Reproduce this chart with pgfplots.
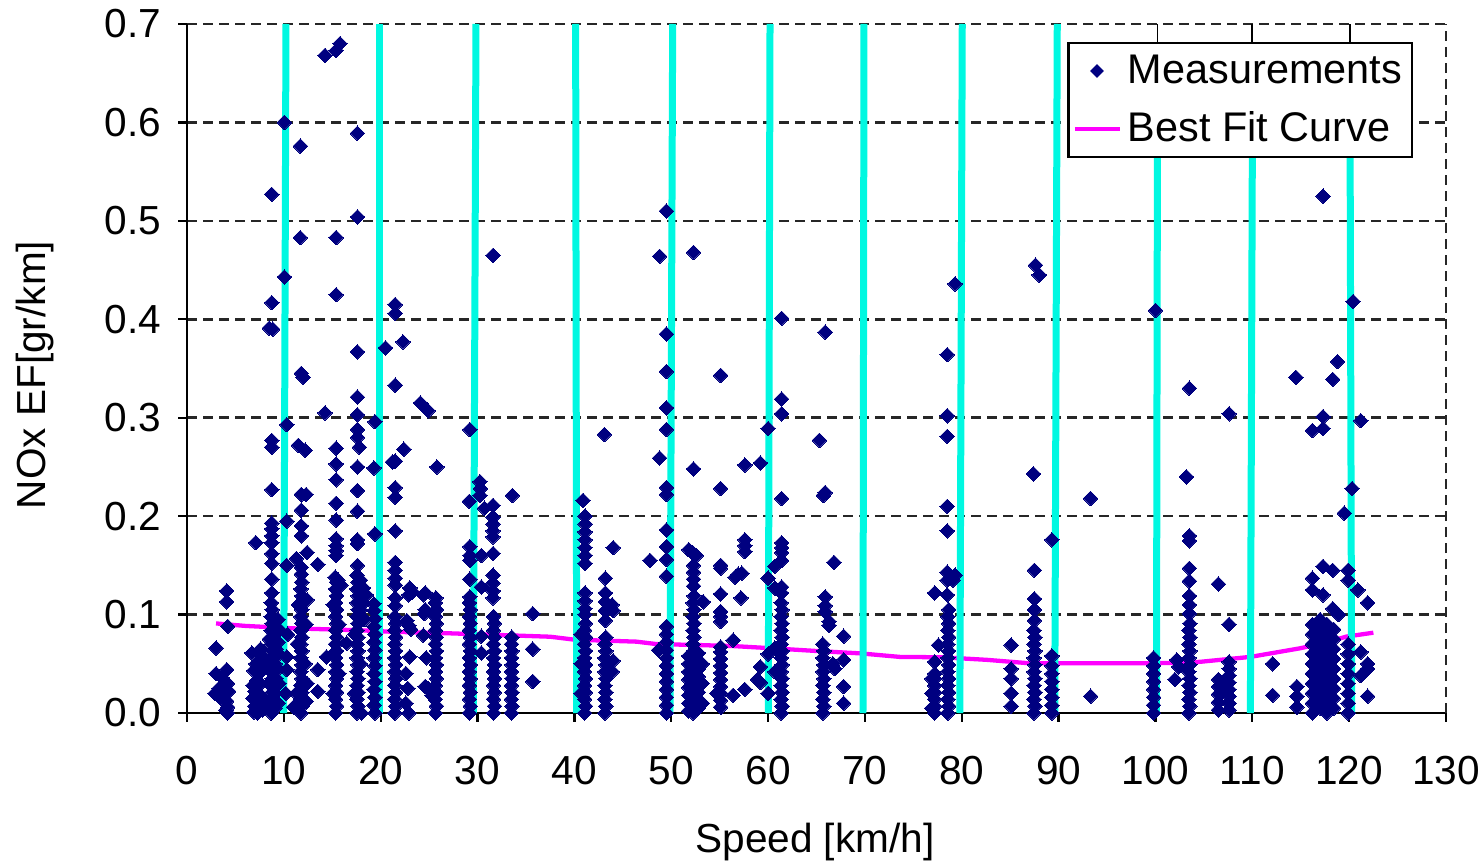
\documentclass[border=0pt]{standalone}
\usepackage{pgfplots}
\pgfplotsset{compat=1.18}
\usepackage{fontspec}
\setmainfont{Liberation Sans}
\definecolor{ptnavy}{RGB}{0,0,128}
\definecolor{bandaqua}{RGB}{0,248,225}
\definecolor{fitmagenta}{RGB}{255,0,255}
\newcommand{\chartfont}{\fontsize{14.2pt}{17pt}\selectfont}
\newcommand{\legendfont}{\fontsize{14.5pt}{17pt}\selectfont}
\pgfplotsset{
  shortline legend/.style={legend image code/.code={\draw[##1] (0.8pt,0pt) -- (16.6pt,0pt);}},
}

\begin{document}
\begin{tikzpicture}
\path[use as bounding box] (0,0) rectangle (518.35pt,302.4pt);
\begin{axis}[
  at={(65.45pt,52.85pt)}, anchor=south west,
  scale only axis, width=440.65pt, height=241.15pt,
  xmin=0, xmax=130, ymin=0, ymax=0.7,
  clip=false,
  xtick={0,10,20,30,40,50,60,70,80,90,100,110,120,130},
  ytick={0,0.1,0.2,0.3,0.4,0.5,0.6,0.7},
  axis x line*=bottom, axis y line*=left,
  axis line style={black, line width=0.8pt},
  tick style={black, line width=0.8pt},
  tick align=outside, major tick length=3pt,
  ymajorgrids,
  major grid style={black!85, line width=0.9pt, dash pattern=on 3.5pt off 2.1pt},
  extra x ticks={130}, extra x tick labels={},
  extra x tick style={grid=major, major tick length=0pt},
  /pgf/number format/assume math mode=true,
  ticklabel style={font=\chartfont},
  xticklabel style={yshift=-8.5pt},
  yticklabel style={xshift=-2.6pt, /pgf/number format/.cd, fixed, fixed zerofill, precision=1},
  xlabel={Speed [km/h]}, ylabel={NOx EF[gr/km]},
  label style={font=\chartfont},
  xlabel style={at={(axis description cs:0.4988,-0.187)}, anchor=center},
  ylabel style={at={(axis description cs:-0.1207,0.4906)}, anchor=center},
  legend style={at={(0.9738,0.9739)}, anchor=north east, draw=black, line width=0.8pt,
    fill=white, font=\legendfont, legend cell align=left, row sep=4.5pt, inner ysep=2pt, inner xsep=1.5pt},
  meas/.style={only marks, mark=square*, mark size=1.8pt,
    mark options={rotate=45, fill=ptnavy, draw=ptnavy, line width=0pt}, forget plot},
  band/.style={bandaqua, line width=2.45pt, forget plot},
]
\addlegendimage{only marks, mark=square*, mark size=1.3pt, mark options={rotate=45, fill=ptnavy, draw=ptnavy}}
\addlegendentry{Measurements}
\addlegendimage{fitmagenta, line width=1.5pt, shortline legend}
\addlegendentry{Best Fit Curve}

% measurements, speed below 20 km/h
\addplot[meas] coordinates {
(3.0,0.066) (4.1,0.124) (4.1,0.113) (4.2,0.088) (3.0,0.040) (4.1,0.044) (3.6,0.036) (4.2,0.030) (3.3,0.025) (2.9,0.020)
(3.8,0.019) (4.3,0.022) (4.1,0.012) (4.2,0.006) (4.2,0.000) (3.5,0.015) (3.9,0.027) (3.2,0.022) (4.0,0.003)
(7.1,0.173) (6.7,0.061) (7.1,0.050) (7.7,0.058) (6.9,0.043) (7.4,0.040) (7.8,0.047) (7.2,0.033) (6.8,0.028) (7.6,0.030)
(7.0,0.022) (7.4,0.020) (6.8,0.015) (7.3,0.012) (7.8,0.015) (7.0,0.007) (7.5,0.005) (6.9,0.001) (7.3,0.000) (7.8,0.003) (7.6,0.065)
(8.75,0.527) (8.75,0.417) (8.5,0.391) (8.85,0.390) (8.75,0.277) (8.75,0.270) (8.75,0.227) (8.75,0.193) (8.75,0.187) (8.75,0.180)
(8.75,0.173) (8.75,0.162) (8.75,0.152) (8.75,0.136) (8.75,0.122)
(8.7,0.000) (8.8,0.007) (8.7,0.014) (8.8,0.021) (8.7,0.028) (8.8,0.035) (8.7,0.042) (8.8,0.049) (8.7,0.056) (8.8,0.063)
(8.7,0.070) (8.8,0.077) (8.7,0.084) (8.8,0.091) (8.7,0.098) (8.8,0.105) (8.7,0.112)
(8.4,0.010) (8.5,0.030) (8.4,0.050) (8.5,0.075) (9.1,0.005) (9.1,0.020) (9.2,0.035) (9.1,0.050) (9.2,0.065) (9.1,0.080)
(9.4,0.010) (9.5,0.030) (9.4,0.045) (9.5,0.060) (9.4,0.072) (9.5,0.085) (9.4,0.095)
(10.05,0.600) (10.05,0.443) (10.3,0.293) (10.3,0.195) (10.3,0.150) (10.3,0.057) (10.3,0.044) (10.2,0.020) (10.4,0.080)
(11.7,0.576) (11.7,0.483) (11.8,0.345) (12.0,0.341) (11.5,0.272) (12.2,0.267) (11.8,0.222) (12.3,0.222) (11.8,0.206) (11.8,0.190)
(11.8,0.180) (11.3,0.157) (12.4,0.163) (13.5,0.151) (11.8,0.148) (11.8,0.141)
(11.75,0.000) (11.85,0.007) (11.75,0.014) (11.85,0.021) (11.75,0.028) (11.85,0.035) (11.75,0.042) (11.85,0.049) (11.75,0.056) (11.85,0.063)
(11.75,0.070) (11.85,0.077) (11.75,0.084) (11.85,0.091) (11.75,0.098) (11.85,0.105) (11.75,0.112) (11.85,0.119) (11.75,0.126) (11.85,0.133)
(11.0,0.006) (11.3,0.020) (12.3,0.012) (12.4,0.030) (12.2,0.050) (11.4,0.070) (12.3,0.090) (11.5,0.110) (13.5,0.044) (13.5,0.022)
(14.4,0.057) (12.4,0.115)
(14.25,0.668) (15.4,0.673) (15.8,0.680) (15.4,0.483) (15.4,0.425) (14.25,0.305) (15.4,0.269) (15.4,0.253) (15.4,0.237) (15.4,0.213)
(15.4,0.196) (15.4,0.177) (15.4,0.170) (15.4,0.165) (15.4,0.160) (15.3,0.138) (15.6,0.135)
(15.35,0.000) (15.45,0.007) (15.35,0.014) (15.45,0.021) (15.35,0.028) (15.45,0.035) (15.35,0.042) (15.45,0.049) (15.35,0.056) (15.45,0.063)
(15.35,0.070) (15.45,0.077) (15.35,0.084) (15.45,0.091) (15.35,0.098) (15.45,0.105) (15.35,0.112) (15.45,0.119) (15.35,0.126) (15.45,0.133)
(15.1,0.020) (15.7,0.040) (15.1,0.060) (15.7,0.090) (15.1,0.110) (16.5,0.071) (15.9,0.130)
(17.6,0.589) (17.6,0.504) (17.6,0.367) (17.6,0.321) (17.6,0.303) (17.6,0.288) (17.6,0.280) (17.8,0.270) (17.6,0.250) (17.6,0.226)
(17.6,0.205) (17.6,0.176) (17.6,0.172) (17.6,0.150)
(17.55,0.000) (17.65,0.007) (17.55,0.014) (17.65,0.021) (17.55,0.028) (17.65,0.035) (17.55,0.042) (17.65,0.049) (17.55,0.056) (17.65,0.063)
(17.55,0.070) (17.65,0.077) (17.55,0.084) (17.65,0.091) (17.55,0.098) (17.65,0.105) (17.55,0.112) (17.65,0.119) (17.55,0.126) (17.65,0.133) (17.55,0.140)
(17.9,0.135) (18.2,0.127) (18.5,0.120) (18.2,0.112) (17.9,0.105) (18.3,0.095) (17.3,0.020) (17.9,0.050) (17.3,0.080) (18.0,0.000)
(19.4,0.296) (19.3,0.249) (19.4,0.182) (19.3,0.111) (19.4,0.000) (19.3,0.008) (19.4,0.016) (19.3,0.024) (19.4,0.032) (19.3,0.040)
(19.4,0.048) (19.3,0.056) (19.4,0.064) (19.3,0.072) (19.4,0.080) (19.3,0.088) (19.4,0.096) (19.3,0.104)
};
% measurements, 20 to 40 km/h
\addplot[meas] coordinates {
(20.5,0.371) (21.5,0.415) (21.5,0.406) (22.3,0.377) (21.5,0.333) (22.4,0.268) (21.2,0.255) (21.5,0.256) (21.5,0.229) (21.5,0.219)
(21.5,0.185) (21.5,0.153) (21.5,0.145) (21.5,0.137) (21.5,0.130) (21.5,0.117) (21.5,0.109)
(21.45,0.000) (21.55,0.007) (21.45,0.014) (21.55,0.021) (21.45,0.028) (21.55,0.035) (21.45,0.042) (21.55,0.049) (21.45,0.056) (21.55,0.063)
(21.45,0.070) (21.55,0.077) (21.45,0.084) (21.55,0.091) (21.45,0.098)
(23.0,0.127) (23.3,0.123) (22.9,0.120) (22.7,0.094) (22.9,0.089) (23.1,0.085) (23.0,0.057) (22.6,0.040) (22.8,0.025) (22.6,0.010) (22.9,0.000)
(24.1,0.315) (24.9,0.307) (25.8,0.250) (24.6,0.122) (24.4,0.120) (24.6,0.105) (24.5,0.101) (24.4,0.079) (24.7,0.056) (24.6,0.027)
(24.9,0.025) (25.3,0.018)
(25.65,0.000) (25.75,0.007) (25.65,0.014) (25.75,0.021) (25.65,0.028) (25.75,0.035) (25.65,0.042) (25.75,0.049) (25.65,0.056) (25.75,0.063)
(25.65,0.070) (25.75,0.077) (25.65,0.084) (25.75,0.091) (25.65,0.098) (25.75,0.105) (25.65,0.112) (25.7,0.117)
(29.2,0.288) (29.15,0.215) (29.2,0.169) (29.2,0.160) (29.2,0.155) (29.2,0.136)
(29.15,0.000) (29.25,0.007) (29.15,0.014) (29.25,0.021) (29.15,0.028) (29.25,0.035) (29.15,0.042) (29.25,0.049) (29.15,0.056) (29.25,0.063)
(29.15,0.070) (29.25,0.077) (29.15,0.084) (29.25,0.091) (29.15,0.098) (29.25,0.105) (29.15,0.112) (29.2,0.118)
(30.25,0.235) (30.3,0.228) (30.25,0.221) (30.7,0.208) (30.4,0.160) (30.4,0.128) (30.4,0.078) (30.4,0.061)
(31.6,0.465) (31.6,0.211) (31.6,0.199) (31.6,0.192) (31.6,0.185) (31.6,0.179) (31.6,0.162) (31.6,0.140) (31.6,0.132) (31.6,0.124) (31.6,0.117)
(31.65,0.000) (31.75,0.007) (31.65,0.014) (31.75,0.021) (31.65,0.028) (31.75,0.035) (31.65,0.042) (31.75,0.049) (31.65,0.056) (31.75,0.063)
(31.65,0.070) (31.75,0.077) (31.65,0.084) (31.75,0.091) (31.65,0.098)
(33.6,0.221) (33.5,0.000) (33.55,0.007) (33.5,0.014) (33.55,0.021) (33.5,0.028) (33.55,0.035) (33.5,0.042) (33.55,0.049) (33.5,0.056)
(33.55,0.063) (33.5,0.070) (33.55,0.077) (35.7,0.101) (35.7,0.065) (35.7,0.032)
};
% measurements, 40 to 70 km/h
\addplot[meas] coordinates {
(40.9,0.216) (41.1,0.200) (41.1,0.192) (41.1,0.184) (41.1,0.176) (41.1,0.168) (41.1,0.160) (41.1,0.152) (41.1,0.122) (41.1,0.114)
(41.1,0.106) (41.1,0.100)
(41.05,0.000) (41.15,0.007) (41.05,0.014) (41.15,0.021) (41.05,0.028) (41.15,0.035) (41.05,0.042) (41.15,0.049) (41.05,0.056) (41.15,0.063)
(41.05,0.070) (41.15,0.077) (41.05,0.084) (41.15,0.091) (40.7,0.020) (40.7,0.050) (40.7,0.080)
(43.1,0.283) (44.0,0.168) (43.2,0.137) (43.2,0.122) (43.2,0.113) (43.2,0.104) (43.2,0.094) (44.0,0.104) (44.0,0.053) (43.9,0.110) (43.9,0.042)
(43.15,0.000) (43.25,0.007) (43.15,0.014) (43.25,0.021) (43.15,0.028) (43.25,0.035) (43.15,0.042) (43.25,0.049) (43.15,0.056) (43.25,0.063)
(43.15,0.070) (43.25,0.077)
(47.8,0.155) (48.8,0.259) (48.8,0.464) (48.7,0.064)
(49.5,0.510) (49.5,0.385) (49.5,0.347) (49.5,0.310) (49.5,0.288) (49.5,0.229) (49.5,0.222) (49.5,0.186) (49.5,0.169) (49.5,0.156) (49.5,0.139)
(49.5,0.000) (49.5,0.008) (49.5,0.016) (49.5,0.024) (49.5,0.032) (49.5,0.040) (49.5,0.048) (49.5,0.056) (49.5,0.064) (49.5,0.072)
(49.5,0.080) (49.5,0.088)
(52.3,0.468) (52.3,0.248) (51.8,0.166) (52.2,0.163) (52.6,0.160) (52.3,0.150) (52.3,0.143) (52.3,0.136) (52.3,0.129) (53.3,0.113)
(52.25,0.000) (52.35,0.007) (52.25,0.014) (52.35,0.021) (52.25,0.028) (52.35,0.035) (52.25,0.042) (52.35,0.049) (52.25,0.056) (52.35,0.063)
(52.25,0.070) (52.35,0.077) (52.25,0.084) (52.35,0.091) (52.25,0.098) (52.35,0.105) (52.25,0.112) (52.35,0.119)
(51.8,0.002) (51.8,0.010) (51.8,0.018) (51.8,0.026) (51.8,0.034) (51.8,0.042) (51.8,0.050) (51.8,0.058)
(52.8,0.005) (52.8,0.013) (52.8,0.021) (52.8,0.029) (52.8,0.037) (52.8,0.045) (52.8,0.053) (52.8,0.061)
(53.2,0.010) (53.2,0.030) (53.2,0.050)
(55.1,0.343) (55.1,0.228) (55.1,0.150) (55.1,0.147) (55.1,0.121) (55.1,0.103) (55.1,0.098) (55.1,0.093)
(55.1,0.006) (55.1,0.013) (55.1,0.020) (55.1,0.027) (55.1,0.034) (55.1,0.041) (55.1,0.048) (55.1,0.055) (55.1,0.062) (55.1,0.067) (54.7,0.020)
(56.6,0.138) (57.3,0.142) (56.9,0.141) (57.2,0.117) (56.4,0.074) (56.4,0.018) (57.6,0.024)
(57.6,0.252) (59.2,0.254) (57.6,0.176) (57.6,0.170) (57.6,0.164)
(59.2,0.047) (58.9,0.034) (59.2,0.031)
(60.0,0.289) (60.0,0.137) (60.0,0.060) (60.0,0.020)
(61.4,0.401) (61.4,0.319) (61.4,0.304) (61.4,0.218) (61.4,0.173) (61.4,0.168) (61.4,0.163) (61.4,0.155) (60.7,0.149) (60.7,0.127)
(61.4,0.128) (61.4,0.122) (60.7,0.066) (60.7,0.042)
(61.35,0.000) (61.45,0.007) (61.35,0.014) (61.45,0.021) (61.35,0.028) (61.45,0.035) (61.35,0.042) (61.45,0.049) (61.35,0.056) (61.45,0.063)
(61.35,0.070) (61.45,0.077) (61.35,0.084) (61.45,0.091) (61.35,0.098) (61.45,0.105) (61.35,0.112)
(65.9,0.387) (65.3,0.277) (65.9,0.224) (65.7,0.221) (66.8,0.153) (65.9,0.118) (65.9,0.109) (65.9,0.103) (66.3,0.093) (66.3,0.089)
(65.65,0.000) (65.75,0.007) (65.65,0.014) (65.75,0.021) (65.65,0.028) (65.75,0.035) (65.65,0.042) (65.75,0.049) (65.65,0.056) (65.75,0.063)
(65.65,0.070) (66.7,0.050) (66.9,0.045)
(67.8,0.078) (67.8,0.054) (67.8,0.027) (67.8,0.010)
};
% measurements, 70 km/h and above
\addplot[meas] coordinates {
(77.2,0.122) (77.6,0.069) (77.2,0.052) (77.2,0.000) (77.2,0.007) (77.2,0.014) (77.2,0.021) (77.2,0.028) (77.2,0.035) (77.2,0.040)
(76.9,0.005) (76.9,0.020) (76.9,0.035)
(78.5,0.364) (78.5,0.302) (78.5,0.281) (78.5,0.210) (78.5,0.185) (78.5,0.143) (78.5,0.135) (78.5,0.120)
(78.55,0.000) (78.65,0.007) (78.55,0.014) (78.65,0.021) (78.55,0.028) (78.65,0.035) (78.55,0.042) (78.65,0.049) (78.55,0.056) (78.65,0.063)
(78.55,0.070) (78.65,0.077) (78.55,0.084) (78.65,0.091) (78.55,0.098) (78.65,0.105) (79.1,0.135) (79.3,0.140) (79.3,0.436)
(85.1,0.069) (85.1,0.045) (85.1,0.035) (85.1,0.020) (85.1,0.007)
(87.6,0.455) (88.0,0.445) (87.4,0.243) (87.5,0.145) (87.5,0.116) (87.5,0.105) (87.5,0.094)
(87.45,0.000) (87.55,0.007) (87.45,0.014) (87.55,0.021) (87.45,0.028) (87.55,0.035) (87.45,0.042) (87.55,0.049) (87.45,0.056) (87.55,0.063)
(87.45,0.070) (87.55,0.077) (87.45,0.084)
(89.3,0.176) (89.3,0.058) (89.3,0.000) (89.3,0.008) (89.3,0.016) (89.3,0.024) (89.3,0.032) (89.3,0.040) (89.3,0.048)
(93.3,0.218) (93.3,0.017)
(100.0,0.409) (99.8,0.000) (99.8,0.008) (99.8,0.016) (99.8,0.024) (99.8,0.032) (99.8,0.040) (99.8,0.048) (99.8,0.056)
(102.2,0.054) (102.0,0.034) (102.4,0.047)
(103.5,0.330) (103.2,0.240) (103.5,0.180) (103.5,0.175) (103.5,0.147) (103.5,0.134) (103.5,0.119) (103.5,0.110) (103.5,0.101)
(103.45,0.000) (103.55,0.007) (103.45,0.014) (103.55,0.021) (103.45,0.028) (103.55,0.035) (103.45,0.042) (103.55,0.049) (103.45,0.056) (103.55,0.063)
(103.45,0.070) (103.55,0.077) (103.45,0.084) (103.55,0.091)
(107.6,0.304) (106.5,0.131) (107.6,0.090)
(107.6,0.003) (107.6,0.010) (107.6,0.017) (107.6,0.024) (107.6,0.031) (107.6,0.038) (107.6,0.045) (107.6,0.052)
(106.5,0.003) (106.5,0.011) (106.5,0.019) (106.5,0.027) (106.5,0.034)
(112.1,0.050) (112.1,0.018) (114.6,0.027) (114.6,0.017) (114.6,0.006) (114.5,0.341)
(117.3,0.525) (118.8,0.357) (118.3,0.339) (117.3,0.301) (116.2,0.287) (117.3,0.289) (116.2,0.137) (117.3,0.149) (118.3,0.145) (116.2,0.125)
(117.3,0.120) (118.3,0.106) (118.9,0.100)
(116.2,0.000) (116.2,0.010) (116.2,0.020) (116.2,0.030) (116.2,0.040) (116.2,0.050) (116.2,0.060) (116.2,0.070) (116.2,0.080) (116.2,0.090)
(117.0,0.005) (117.0,0.015) (117.0,0.025) (117.0,0.035) (117.0,0.045) (117.0,0.055) (117.0,0.065) (117.0,0.075) (117.0,0.085) (117.0,0.095)
(117.7,0.000) (117.7,0.010) (117.7,0.020) (117.7,0.030) (117.7,0.040) (117.7,0.050) (117.7,0.060) (117.7,0.070) (117.7,0.080) (117.7,0.090)
(118.4,0.005) (118.4,0.015) (118.4,0.025) (118.4,0.035) (118.4,0.045) (118.4,0.055) (118.4,0.065) (118.4,0.075) (118.4,0.085)
(120.4,0.418) (120.3,0.228) (119.5,0.203) (119.9,0.145) (119.9,0.135)
(119.9,0.000) (119.9,0.010) (119.9,0.020) (119.9,0.030) (119.9,0.040) (119.9,0.050) (119.9,0.060) (119.9,0.070)
(121.2,0.297) (120.9,0.125) (121.9,0.112) (121.2,0.062) (121.9,0.050) (121.9,0.045) (121.2,0.038) (121.9,0.017)
};

% best fit curve
\addplot[fitmagenta, line width=1.5pt, forget plot] coordinates {
(3,0.091) (6,0.0885) (11,0.086) (18,0.084) (21,0.0826) (27,0.081) (33,0.079) (37.5,0.0775) (40,0.0745) (46.4,0.0725)
(48.5,0.070) (53,0.069) (56.4,0.068) (60,0.066) (65,0.063) (69.5,0.0606) (73.6,0.057) (78,0.0566) (82.6,0.054) (87,0.0505)
(99.4,0.0505) (102.5,0.051) (104.6,0.052) (109.8,0.057) (114.9,0.0657) (117.3,0.0708) (119.7,0.0776) (122.5,0.0816)
};

% speed band boundaries
\addplot[band] coordinates {(9.98,0) (10.22,0.7)};
\addplot[band] coordinates {(19.86,0) (19.86,0.7)};
\addplot[band] coordinates {(29.56,0) (29.84,0.7)};
\addplot[band] coordinates {(40.24,0) (40.13,0.7)};
\addplot[band] coordinates {(49.87,0) (50.15,0.7)};
\addplot[band] coordinates {(60.02,0) (60.2,0.7)};
\addplot[band] coordinates {(69.8,0) (69.9,0.7)};
\addplot[band] coordinates {(79.8,0) (80.05,0.7)};
\addplot[band] coordinates {(89.6,0) (89.86,0.7)};
\addplot[band] coordinates {(100.1,0) (100.2,0.565)};
\addplot[band] coordinates {(109.8,0) (110.0,0.565)};
\addplot[band] coordinates {(120.26,0) (120.1,0.565)};
% thin upper ends above the legend
\addplot[black, line width=0.6pt, forget plot] coordinates {(100.2,0.672) (100.2,0.7)};
\addplot[black, line width=0.6pt, forget plot] coordinates {(110.0,0.672) (110.0,0.7)};
\addplot[black, line width=0.6pt, forget plot] coordinates {(120.1,0.672) (120.1,0.7)};
\end{axis}
\end{tikzpicture}
\end{document}
